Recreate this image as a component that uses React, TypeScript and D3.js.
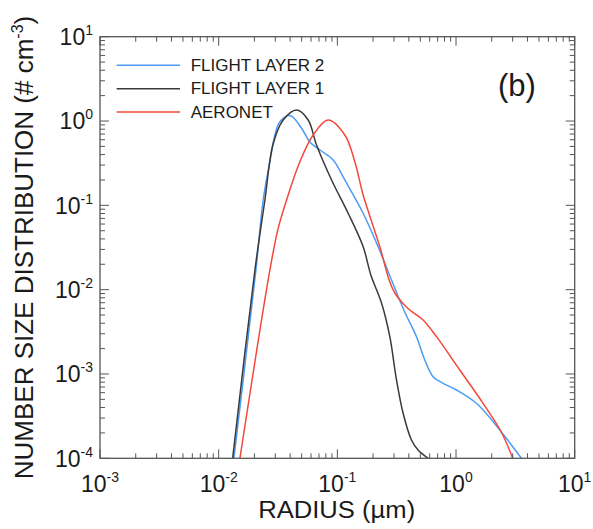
import React from "react";
import * as d3 from "d3";

// ---------- data ----------
const seriesNames = ["FLIGHT LAYER 2", "FLIGHT LAYER 1", "AERONET"];
const seriesColors = ["#4b9cf2", "#3a3a3a", "#f4483c"];

// radius (µm) and number size distribution (# cm^-3)
const layer2Radius = [0.01344, 0.0206, 0.02372, 0.02702, 0.02976, 0.03279, 0.04035, 0.04994, 0.05866, 0.0712, 0.09218, 0.1156, 0.165, 0.2206, 0.2861, 0.3631, 0.4643, 0.5455, 0.6408, 0.778, 1.009, 1.486, 2.336, 3.557];
const layer2Number = [1e-4, 0.01711, 0.1157, 0.3294, 0.683, 0.98, 1.156, 0.82, 0.564, 0.453, 0.345, 0.1998, 0.0805, 0.0323, 0.01302, 0.00574, 0.00277, 0.001465, 9.29e-4, 7.75e-4, 6.46e-4, 4.49e-4, 2.17e-4, 1e-4];

const layer1Radius = [0.01311, 0.0202, 0.02452, 0.02862, 0.03496, 0.0456, 0.05677, 0.06679, 0.08939, 0.1233, 0.165, 0.1915, 0.2356, 0.2768, 0.3151, 0.3582, 0.4213, 0.479, 0.5815];
const layer1Number = [1e-4, 0.01711, 0.1157, 0.5196, 1.028, 1.351, 1.028, 0.5196, 0.1998, 0.0805, 0.0323, 0.01493, 0.00695, 0.00277, 8.49e-4, 3.42e-4, 1.648e-4, 1.254e-4, 1e-4];

const aeronetRadius = [0.0151, 0.02702, 0.03172, 0.03852, 0.04832, 0.06254, 0.08366, 0.1156, 0.1404, 0.165, 0.228, 0.2731, 0.3049, 0.3561, 0.4077, 0.5279, 0.6845, 1.076, 1.69, 2.405, 3.005];
const aeronetNumber = [1e-4, 0.01711, 0.0534, 0.1326, 0.3294, 0.683, 1.028, 0.683, 0.3294, 0.1326, 0.0323, 0.01302, 0.00913, 0.00689, 0.00574, 0.00437, 0.00277, 0.001115, 4.49e-4, 2.05e-4, 1e-4];

const xTickExponents = [-3, -2, -1, 0, 1];
const yTickExponents = [1, 0, -1, -2, -3, -4];
const minorMultipliers = [2, 3, 4, 5, 6, 7, 8, 9];

const xTitle = "RADIUS (\u00b5m)";
const panelLabel = "(b)";

// ---------- layout ----------
const W = 593;
const H = 529;
const L = 100, R = 574.7, T = 36.7, B = 458.3;
const FONT = "'Liberation Sans', Arial, Helvetica, sans-serif";
const AX = "#555";

export default function App() {
  const x = d3.scaleLog().domain([1e-3, 1e1]).range([L, R]);
  const y = d3.scaleLog().domain([1e-4, 1e1]).range([B, T]);

  const series = [
    layer2Radius.map((r, i) => [r, layer2Number[i]] as [number, number]),
    layer1Radius.map((r, i) => [r, layer1Number[i]] as [number, number]),
    aeronetRadius.map((r, i) => [r, aeronetNumber[i]] as [number, number]),
  ];
  const line = d3
    .line<[number, number]>()
    .x((d) => x(d[0]))
    .y((d) => y(d[1]))
    .curve(d3.curveCatmullRom.alpha(0.5));

  const xMinor: number[] = [];
  for (let e = -3; e < 1; e++) minorMultipliers.forEach((m) => xMinor.push(m * Math.pow(10, e)));
  const yMinor: number[] = [];
  for (let e = -4; e < 1; e++) minorMultipliers.forEach((m) => yMinor.push(m * Math.pow(10, e)));

  const MAJ = 9, MIN = 5;
  const supFmt = (e: number) => (e < 0 ? "-" + Math.abs(e) : String(e));

  return (
    <div style={{ position: "fixed", left: 0, top: 0 }}>
      <svg width={W} height={H} style={{ display: "block", background: "#fff" }} fontFamily={FONT}>
        <defs>
          <clipPath id="plotClip">
            <rect x={L} y={T} width={R - L} height={B - T} />
          </clipPath>
        </defs>

        {/* curves */}
        <g clipPath="url(#plotClip)">
          {series.map((s, i) => (
            <path key={i} d={line(s) || ""} fill="none" stroke={seriesColors[i]} strokeWidth={1.5} />
          ))}
        </g>

        {/* ticks */}
        <g stroke={AX} strokeWidth={1}>
          {xTickExponents.map((e) => {
            const px = x(Math.pow(10, e));
            return (
              <g key={"xm" + e}>
                <line x1={px} x2={px} y1={B} y2={B - MAJ} />
                <line x1={px} x2={px} y1={T} y2={T + MAJ} />
              </g>
            );
          })}
          {xMinor.map((v, i) => {
            const px = x(v);
            return (
              <g key={"xn" + i}>
                <line x1={px} x2={px} y1={B} y2={B - MIN} />
                <line x1={px} x2={px} y1={T} y2={T + MIN} />
              </g>
            );
          })}
          {yTickExponents.map((e) => {
            const py = y(Math.pow(10, e));
            return (
              <g key={"ym" + e}>
                <line x1={L} x2={L + MAJ} y1={py} y2={py} />
                <line x1={R} x2={R - MAJ} y1={py} y2={py} />
              </g>
            );
          })}
          {yMinor.map((v, i) => {
            const py = y(v);
            return (
              <g key={"yn" + i}>
                <line x1={L} x2={L + MIN} y1={py} y2={py} />
                <line x1={R} x2={R - MIN} y1={py} y2={py} />
              </g>
            );
          })}
        </g>

        {/* frame */}
        <rect x={L} y={T} width={R - L} height={B - T} fill="none" stroke={AX} strokeWidth={1.3} />

        {/* tick labels */}
        <g fill="#1a1a1a" fontSize={23}>
          {xTickExponents.map((e) => (
            <text key={"xl" + e} x={x(Math.pow(10, e))} y={491.5} textAnchor="middle">
              10<tspan fontSize={14} dy={-10}>{supFmt(e)}</tspan>
            </text>
          ))}
          {yTickExponents.map((e) => (
            <text key={"yl" + e} x={93} y={y(Math.pow(10, e)) + 8.3} textAnchor="end">
              10<tspan fontSize={14} dy={-10}>{supFmt(e)}</tspan>
            </text>
          ))}
        </g>

        {/* axis titles */}
        <text
          x={336.7}
          y={518.3}
          textAnchor="middle"
          fontSize={23}
          fill="#1a1a1a"
          textLength={157}
          lengthAdjust="spacingAndGlyphs"
        >
          {xTitle}
        </text>
        <text
          transform={`translate(33, 247.5) rotate(-90)`}
          textAnchor="middle"
          fontSize={26}
          fill="#1a1a1a"
        >
          NUMBER SIZE DISTRIBUTION (# cm<tspan fontSize={16} dy={-10}>-3</tspan>
          <tspan dy={10}>)</tspan>
        </text>

        {/* legend */}
        {seriesNames.map((name, i) => {
          const ly = 65.3 + i * 23.35;
          return (
            <g key={"lg" + i}>
              <line x1={116.7} x2={180} y1={ly} y2={ly} stroke={seriesColors[i]} strokeWidth={1.5} />
              <text x={190.7} y={ly + 5.8} fontSize={17} fill="#1a1a1a">
                {name}
              </text>
            </g>
          );
        })}

        {/* panel label */}
        <text x={517} y={95.5} textAnchor="middle" fontSize={31} fill="#1a1a1a">
          {panelLabel}
        </text>
      </svg>
    </div>
  );
}
